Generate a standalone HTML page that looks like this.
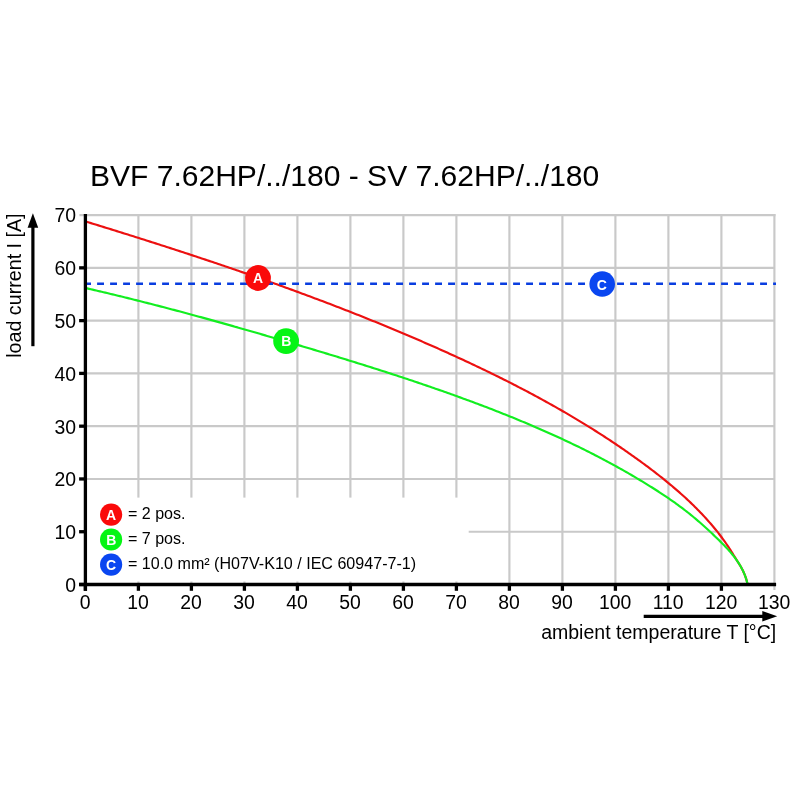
<!DOCTYPE html>
<html><head><meta charset="utf-8"><title>Derating curve</title>
<style>
html,body{margin:0;padding:0;background:#fff;}
body{width:800px;height:800px;overflow:hidden;}
svg{display:block;font-family:"Liberation Sans",Arial,sans-serif;}
</style></head><body>
<svg width="800" height="800" viewBox="0 0 800 800">
<rect width="800" height="800" fill="#fff"/>
<text x="89.9" y="185.6" font-size="30.05" fill="#000">BVF 7.62HP/../180 - SV 7.62HP/../180</text>
<g stroke="#c9c9c9" stroke-width="2.15" fill="none">
<line x1="138.40" y1="215.07" x2="138.40" y2="584.50"/>
<line x1="191.40" y1="215.07" x2="191.40" y2="584.50"/>
<line x1="244.40" y1="215.07" x2="244.40" y2="584.50"/>
<line x1="297.40" y1="215.07" x2="297.40" y2="584.50"/>
<line x1="350.40" y1="215.07" x2="350.40" y2="584.50"/>
<line x1="403.40" y1="215.07" x2="403.40" y2="584.50"/>
<line x1="456.40" y1="215.07" x2="456.40" y2="584.50"/>
<line x1="509.40" y1="215.07" x2="509.40" y2="584.50"/>
<line x1="562.40" y1="215.07" x2="562.40" y2="584.50"/>
<line x1="615.40" y1="215.07" x2="615.40" y2="584.50"/>
<line x1="668.40" y1="215.07" x2="668.40" y2="584.50"/>
<line x1="721.40" y1="215.07" x2="721.40" y2="584.50"/>
<line x1="774.40" y1="213.97" x2="774.40" y2="590.00"/>
<line x1="85.40" y1="531.73" x2="774.40" y2="531.73"/>
<line x1="85.40" y1="478.95" x2="774.40" y2="478.95"/>
<line x1="85.40" y1="426.18" x2="774.40" y2="426.18"/>
<line x1="85.40" y1="373.40" x2="774.40" y2="373.40"/>
<line x1="85.40" y1="320.62" x2="774.40" y2="320.62"/>
<line x1="85.40" y1="267.85" x2="774.40" y2="267.85"/>
<line x1="79.40" y1="215.07" x2="775.50" y2="215.07"/>
</g>
<rect x="87" y="497.6" width="381.7" height="83.9" fill="#fff"/>
<g fill="none" stroke-width="2.15" stroke-linecap="butt" stroke-linejoin="round">
<path d="M85.40,221.40 L87.25,221.97 L89.10,222.53 L90.95,223.10 L92.80,223.67 L94.64,224.24 L96.49,224.81 L98.34,225.38 L100.19,225.95 L102.04,226.52 L103.89,227.10 L105.74,227.67 L107.58,228.24 L109.43,228.82 L111.28,229.39 L113.13,229.97 L114.98,230.54 L116.82,231.12 L118.67,231.69 L120.52,232.27 L122.37,232.85 L124.21,233.43 L126.06,234.01 L127.91,234.59 L129.76,235.17 L131.60,235.75 L133.45,236.33 L135.30,236.92 L137.14,237.50 L138.99,238.08 L140.84,238.67 L142.68,239.26 L144.53,239.84 L146.38,240.43 L148.22,241.02 L150.07,241.60 L151.91,242.19 L153.76,242.78 L155.60,243.37 L157.45,243.97 L159.30,244.56 L161.14,245.15 L162.98,245.75 L164.83,246.34 L166.67,246.94 L168.52,247.53 L170.36,248.13 L172.21,248.73 L174.05,249.33 L175.89,249.92 L177.74,250.52 L179.58,251.13 L181.42,251.73 L183.26,252.33 L185.11,252.93 L186.95,253.54 L188.79,254.14 L190.63,254.75 L192.47,255.36 L194.31,255.97 L196.15,256.57 L197.99,257.18 L199.83,257.79 L201.67,258.41 L203.51,259.02 L205.35,259.63 L207.19,260.25 L209.03,260.86 L210.87,261.48 L212.71,262.10 L214.55,262.71 L216.38,263.33 L218.22,263.95 L220.06,264.57 L221.89,265.20 L223.73,265.82 L225.57,266.44 L227.40,267.07 L229.24,267.69 L231.07,268.32 L232.91,268.95 L234.74,269.58 L236.58,270.21 L238.41,270.84 L240.24,271.47 L242.08,272.11 L243.91,272.74 L245.74,273.37 L247.57,274.01 L249.41,274.65 L251.24,275.29 L253.07,275.93 L254.90,276.57 L256.73,277.21 L258.56,277.85 L260.39,278.50 L262.22,279.14 L264.05,279.79 L265.87,280.44 L267.70,281.09 L269.53,281.74 L271.36,282.39 L273.18,283.04 L275.01,283.69 L276.83,284.35 L278.66,285.00 L280.48,285.66 L282.31,286.32 L284.13,286.98 L285.95,287.64 L287.78,288.30 L289.60,288.96 L291.42,289.63 L293.24,290.29 L295.06,290.96 L296.88,291.63 L298.70,292.30 L300.52,292.97 L302.34,293.64 L304.16,294.31 L305.98,294.98 L307.80,295.66 L309.61,296.34 L311.43,297.01 L313.25,297.69 L315.06,298.38 L316.88,299.06 L318.69,299.74 L320.51,300.43 L322.32,301.11 L324.13,301.80 L325.94,302.49 L327.76,303.18 L329.57,303.87 L331.38,304.56 L333.19,305.26 L335.00,305.95 L336.81,306.65 L338.61,307.35 L340.42,308.05 L342.23,308.75 L344.04,309.45 L345.84,310.16 L347.65,310.86 L349.45,311.57 L351.26,312.28 L353.06,312.99 L354.86,313.70 L356.67,314.41 L358.47,315.12 L360.27,315.84 L362.07,316.56 L363.87,317.28 L365.67,318.00 L367.47,318.72 L369.27,319.44 L371.06,320.17 L372.86,320.89 L374.66,321.62 L376.45,322.35 L378.25,323.08 L380.04,323.81 L381.83,324.55 L383.63,325.28 L385.42,326.02 L387.21,326.76 L389.00,327.50 L390.79,328.24 L392.58,328.98 L394.37,329.73 L396.16,330.47 L397.94,331.22 L399.73,331.97 L401.52,332.72 L403.30,333.48 L405.08,334.23 L406.87,334.99 L408.65,335.74 L410.43,336.50 L412.21,337.27 L414.00,338.03 L415.78,338.79 L417.55,339.56 L419.33,340.33 L421.11,341.10 L422.89,341.87 L424.66,342.64 L426.44,343.42 L428.21,344.19 L429.99,344.97 L431.76,345.75 L433.53,346.53 L435.30,347.32 L437.07,348.10 L438.84,348.89 L440.61,349.68 L442.38,350.47 L444.15,351.26 L445.91,352.06 L447.68,352.85 L449.44,353.65 L451.21,354.45 L452.97,355.25 L454.73,356.05 L456.49,356.86 L458.25,357.67 L460.01,358.48 L461.77,359.29 L463.53,360.10 L465.29,360.92 L467.04,361.73 L468.80,362.55 L470.55,363.38 L472.30,364.20 L474.05,365.03 L475.80,365.86 L477.55,366.69 L479.30,367.52 L481.05,368.35 L482.79,369.19 L484.54,370.03 L486.28,370.87 L488.02,371.72 L489.76,372.56 L491.50,373.41 L493.24,374.26 L494.98,375.12 L496.71,375.97 L498.45,376.83 L500.18,377.69 L501.91,378.56 L503.64,379.42 L505.37,380.29 L507.10,381.16 L508.83,382.03 L510.55,382.91 L512.28,383.79 L514.00,384.67 L515.72,385.55 L517.44,386.44 L519.16,387.33 L520.88,388.22 L522.59,389.12 L524.31,390.02 L526.02,390.92 L527.73,391.82 L529.44,392.73 L531.15,393.63 L532.85,394.55 L534.56,395.46 L536.26,396.38 L537.96,397.30 L539.66,398.22 L541.36,399.15 L543.06,400.08 L544.75,401.01 L546.45,401.95 L548.14,402.88 L549.83,403.83 L551.52,404.77 L553.21,405.72 L554.89,406.67 L556.57,407.62 L558.26,408.58 L559.94,409.54 L561.61,410.50 L563.29,411.47 L564.96,412.44 L566.64,413.41 L568.31,414.39 L569.98,415.37 L571.64,416.35 L573.31,417.34 L574.97,418.33 L576.63,419.32 L578.29,420.32 L579.95,421.32 L581.61,422.33 L583.26,423.33 L584.91,424.34 L586.56,425.36 L588.21,426.38 L589.85,427.40 L591.50,428.42 L593.14,429.45 L594.78,430.48 L596.41,431.52 L598.05,432.56 L599.68,433.60 L601.31,434.65 L602.94,435.70 L604.57,436.76 L606.19,437.81 L607.82,438.88 L609.44,439.94 L611.06,441.01 L612.67,442.09 L614.28,443.16 L615.90,444.24 L617.50,445.33 L619.11,446.42 L620.72,447.51 L622.32,448.61 L623.92,449.71 L625.52,450.82 L627.11,451.93 L628.70,453.04 L630.29,454.16 L631.88,455.28 L633.47,456.40 L635.05,457.53 L636.63,458.67 L638.21,459.81 L639.79,460.95 L641.36,462.10 L642.93,463.25 L644.50,464.40 L646.06,465.56 L647.62,466.73 L649.18,467.90 L650.74,469.07 L652.29,470.25 L653.84,471.43 L655.38,472.62 L656.92,473.81 L658.46,475.01 L659.99,476.22 L661.52,477.43 L663.04,478.64 L664.55,479.86 L666.07,481.09 L667.57,482.32 L669.07,483.56 L670.57,484.80 L672.06,486.05 L673.54,487.31 L675.02,488.57 L676.49,489.84 L677.96,491.11 L679.42,492.39 L680.87,493.68 L682.31,494.97 L683.75,496.27 L685.18,497.58 L686.61,498.89 L688.02,500.21 L689.43,501.54 L690.83,502.88 L692.22,504.22 L693.61,505.57 L694.98,506.92 L696.35,508.29 L697.71,509.66 L699.05,511.04 L700.39,512.43 L701.73,513.82 L703.05,515.22 L704.36,516.63 L705.66,518.05 L706.95,519.48 L708.24,520.92 L709.51,522.36 L710.77,523.81 L712.02,525.27 L713.26,526.74 L714.49,528.22 L715.71,529.70 L716.91,531.20 L718.11,532.70 L719.29,534.22 L720.46,535.74 L721.61,537.27 L722.76,538.81 L723.89,540.37 L725.00,541.93 L726.10,543.50 L727.19,545.08 L728.26,546.67 L729.32,548.27 L730.37,549.89 L731.39,551.51 L732.41,553.14 L733.40,554.79 L734.38,556.44 L740.11,565.46 L741.02,567.04 L741.89,568.66 L742.72,570.29 L743.50,571.96 L744.24,573.66 L744.93,575.38 L745.57,577.14 L746.16,578.93 L746.70,580.75 L747.18,582.61 L747.60,584.50" stroke="#ec1010"/>
<path d="M85.40,288.00 L87.21,288.41 L89.02,288.83 L90.83,289.25 L92.64,289.67 L94.45,290.09 L96.26,290.51 L98.07,290.93 L99.88,291.36 L101.69,291.78 L103.49,292.21 L105.30,292.64 L107.11,293.07 L108.92,293.50 L110.73,293.94 L112.53,294.37 L114.34,294.81 L116.15,295.24 L117.95,295.68 L119.76,296.12 L121.56,296.56 L123.37,297.01 L125.18,297.45 L126.98,297.89 L128.79,298.34 L130.59,298.79 L132.40,299.24 L134.20,299.69 L136.00,300.14 L137.81,300.59 L139.61,301.05 L141.41,301.50 L143.22,301.96 L145.02,302.42 L146.82,302.88 L148.63,303.34 L150.43,303.80 L152.23,304.26 L154.03,304.72 L155.83,305.19 L157.63,305.65 L159.44,306.12 L161.24,306.59 L163.04,307.06 L164.84,307.53 L166.64,308.00 L168.44,308.47 L170.24,308.95 L172.04,309.42 L173.83,309.90 L175.63,310.38 L177.43,310.85 L179.23,311.33 L181.03,311.81 L182.83,312.29 L184.62,312.78 L186.42,313.26 L188.22,313.74 L190.01,314.23 L191.81,314.72 L193.61,315.20 L195.40,315.69 L197.20,316.18 L199.00,316.67 L200.79,317.16 L202.59,317.65 L204.38,318.15 L206.18,318.64 L207.97,319.13 L209.76,319.63 L211.56,320.13 L213.35,320.62 L215.15,321.12 L216.94,321.62 L218.73,322.12 L220.52,322.62 L222.32,323.12 L224.11,323.63 L225.90,324.13 L227.69,324.63 L229.49,325.14 L231.28,325.64 L233.07,326.15 L234.86,326.66 L236.65,327.16 L238.44,327.67 L240.23,328.18 L242.02,328.69 L243.81,329.20 L245.60,329.72 L247.39,330.23 L249.18,330.74 L250.96,331.25 L252.75,331.77 L254.54,332.28 L256.33,332.80 L258.12,333.32 L259.90,333.83 L261.69,334.35 L263.48,334.87 L265.26,335.39 L267.05,335.91 L268.84,336.43 L270.62,336.95 L272.41,337.47 L274.19,337.99 L275.98,338.51 L277.76,339.04 L279.55,339.56 L281.33,340.08 L283.12,340.61 L284.90,341.13 L286.69,341.66 L288.47,342.19 L290.25,342.71 L292.04,343.24 L293.82,343.77 L295.60,344.30 L297.38,344.82 L299.17,345.35 L300.95,345.88 L302.73,346.41 L304.51,346.94 L306.29,347.47 L308.07,348.01 L309.85,348.54 L311.63,349.07 L313.41,349.60 L315.19,350.14 L316.97,350.67 L318.75,351.21 L320.53,351.74 L322.31,352.28 L324.09,352.82 L325.86,353.35 L327.64,353.89 L329.42,354.43 L331.20,354.97 L332.97,355.51 L334.75,356.05 L336.53,356.59 L338.30,357.14 L340.08,357.68 L341.85,358.22 L343.63,358.77 L345.40,359.32 L347.18,359.86 L348.95,360.41 L350.73,360.96 L352.50,361.51 L354.27,362.06 L356.05,362.61 L357.82,363.16 L359.59,363.72 L361.36,364.27 L363.13,364.83 L364.91,365.38 L366.68,365.94 L368.45,366.50 L370.22,367.06 L371.99,367.62 L373.76,368.18 L375.53,368.74 L377.30,369.31 L379.06,369.87 L380.83,370.44 L382.60,371.01 L384.37,371.57 L386.13,372.14 L387.90,372.71 L389.67,373.29 L391.43,373.86 L393.20,374.44 L394.96,375.01 L396.73,375.59 L398.49,376.17 L400.26,376.75 L402.02,377.33 L403.79,377.91 L405.55,378.50 L407.31,379.08 L409.07,379.67 L410.84,380.26 L412.60,380.85 L414.36,381.44 L416.12,382.03 L417.88,382.62 L419.64,383.22 L421.40,383.82 L423.16,384.41 L424.92,385.02 L426.67,385.62 L428.43,386.22 L430.19,386.82 L431.95,387.43 L433.70,388.04 L435.46,388.65 L437.21,389.26 L438.97,389.87 L440.72,390.49 L442.48,391.10 L444.23,391.72 L445.99,392.34 L447.74,392.96 L449.49,393.59 L451.24,394.21 L453.00,394.84 L454.75,395.47 L456.50,396.10 L458.25,396.73 L460.00,397.37 L461.75,398.00 L463.50,398.64 L465.24,399.28 L466.99,399.92 L468.74,400.57 L470.49,401.21 L472.23,401.86 L473.98,402.51 L475.72,403.16 L477.47,403.81 L479.21,404.47 L480.95,405.13 L482.70,405.79 L484.44,406.45 L486.18,407.12 L487.92,407.78 L489.66,408.45 L491.39,409.12 L493.13,409.80 L494.87,410.47 L496.60,411.15 L498.34,411.83 L500.07,412.51 L501.81,413.20 L503.54,413.89 L505.27,414.58 L507.00,415.27 L508.73,415.96 L510.46,416.66 L512.18,417.36 L513.91,418.06 L515.63,418.77 L517.36,419.48 L519.08,420.19 L520.80,420.90 L522.52,421.62 L524.24,422.33 L525.96,423.05 L527.68,423.78 L529.39,424.50 L531.11,425.23 L532.82,425.96 L534.53,426.70 L536.24,427.44 L537.95,428.18 L539.66,428.92 L541.37,429.66 L543.07,430.41 L544.78,431.16 L546.48,431.92 L548.18,432.68 L549.88,433.44 L551.58,434.20 L553.28,434.97 L554.97,435.74 L556.66,436.51 L558.36,437.28 L560.05,438.06 L561.74,438.84 L563.42,439.63 L565.11,440.42 L566.79,441.21 L568.48,442.00 L570.16,442.80 L571.84,443.60 L573.51,444.41 L575.19,445.21 L576.86,446.02 L578.54,446.84 L580.21,447.66 L581.88,448.48 L583.54,449.30 L585.21,450.13 L586.87,450.96 L588.53,451.79 L590.19,452.63 L591.85,453.47 L593.51,454.32 L595.16,455.17 L596.81,456.02 L598.46,456.88 L600.11,457.74 L601.75,458.60 L603.40,459.47 L605.04,460.34 L606.68,461.21 L608.32,462.09 L609.95,462.97 L611.58,463.86 L613.22,464.74 L614.84,465.64 L616.47,466.53 L618.10,467.44 L619.72,468.34 L621.34,469.25 L622.96,470.16 L624.57,471.08 L626.18,472.00 L627.80,472.92 L629.40,473.85 L631.01,474.78 L632.61,475.72 L634.21,476.66 L635.81,477.60 L637.41,478.55 L639.00,479.51 L640.60,480.46 L642.19,481.42 L643.77,482.39 L645.36,483.36 L646.94,484.33 L648.52,485.31 L650.09,486.29 L651.67,487.28 L653.24,488.27 L654.81,489.27 L656.37,490.27 L657.93,491.27 L659.49,492.29 L661.05,493.30 L662.60,494.32 L664.14,495.35 L665.69,496.39 L667.22,497.43 L668.76,498.48 L670.29,499.53 L671.81,500.59 L673.33,501.66 L674.85,502.73 L676.36,503.82 L677.86,504.91 L679.36,506.01 L680.85,507.11 L682.34,508.23 L683.82,509.35 L685.29,510.48 L686.76,511.62 L688.22,512.77 L689.68,513.93 L691.12,515.10 L692.56,516.28 L694.00,517.46 L695.43,518.66 L696.85,519.86 L698.26,521.08 L699.67,522.30 L701.07,523.53 L702.47,524.76 L703.86,526.00 L705.25,527.25 L706.63,528.51 L708.00,529.77 L709.37,531.04 L710.74,532.31 L712.10,533.59 L713.45,534.88 L714.80,536.17 L716.15,537.46 L717.49,538.76 L718.83,540.06 L720.16,541.37 L721.48,542.68 L722.80,544.01 L724.10,545.34 L725.39,546.68 L726.66,548.03 L727.92,549.39 L729.16,550.76 L730.38,552.15 L731.57,553.56 L732.74,554.98 L733.89,556.41 L735.00,557.87 L736.09,559.34 L737.15,560.84 L738.17,562.36 L739.16,563.89 L740.11,565.46 L741.02,567.04 L741.89,568.66 L742.72,570.29 L743.50,571.96 L744.24,573.66 L744.93,575.38 L745.57,577.14 L746.16,578.93 L746.70,580.75 L747.18,582.61 L747.60,584.50" stroke="#12ee20"/>
<line x1="84.1" y1="283.8" x2="776" y2="283.8" stroke="#0a3ee0" stroke-width="2.4" stroke-dasharray="6.9 6.1"/>
</g>
<g stroke="#000" stroke-width="3.3" fill="none">
<line x1="85.4" y1="214.07" x2="85.4" y2="590.8"/>
<line x1="79.10000000000001" y1="584.5" x2="776.10" y2="584.5"/>
<line x1="85.40" y1="584.50" x2="85.40" y2="590.80"/>
<line x1="138.40" y1="584.50" x2="138.40" y2="590.80"/>
<line x1="191.40" y1="584.50" x2="191.40" y2="590.80"/>
<line x1="244.40" y1="584.50" x2="244.40" y2="590.80"/>
<line x1="297.40" y1="584.50" x2="297.40" y2="590.80"/>
<line x1="350.40" y1="584.50" x2="350.40" y2="590.80"/>
<line x1="403.40" y1="584.50" x2="403.40" y2="590.80"/>
<line x1="456.40" y1="584.50" x2="456.40" y2="590.80"/>
<line x1="509.40" y1="584.50" x2="509.40" y2="590.80"/>
<line x1="562.40" y1="584.50" x2="562.40" y2="590.80"/>
<line x1="615.40" y1="584.50" x2="615.40" y2="590.80"/>
<line x1="668.40" y1="584.50" x2="668.40" y2="590.80"/>
<line x1="721.40" y1="584.50" x2="721.40" y2="590.80"/>
<line x1="79.10" y1="584.50" x2="85.40" y2="584.50"/>
<line x1="79.10" y1="531.73" x2="85.40" y2="531.73"/>
<line x1="79.10" y1="478.95" x2="85.40" y2="478.95"/>
<line x1="79.10" y1="426.18" x2="85.40" y2="426.18"/>
<line x1="79.10" y1="373.40" x2="85.40" y2="373.40"/>
<line x1="79.10" y1="320.62" x2="85.40" y2="320.62"/>
<line x1="79.10" y1="267.85" x2="85.40" y2="267.85"/>
</g>
<g font-size="19.4" fill="#000">
<text x="85.10" y="608.5" text-anchor="middle">0</text>
<text x="138.10" y="608.5" text-anchor="middle">10</text>
<text x="191.10" y="608.5" text-anchor="middle">20</text>
<text x="244.10" y="608.5" text-anchor="middle">30</text>
<text x="297.10" y="608.5" text-anchor="middle">40</text>
<text x="350.10" y="608.5" text-anchor="middle">50</text>
<text x="403.10" y="608.5" text-anchor="middle">60</text>
<text x="456.10" y="608.5" text-anchor="middle">70</text>
<text x="509.10" y="608.5" text-anchor="middle">80</text>
<text x="562.10" y="608.5" text-anchor="middle">90</text>
<text x="615.10" y="608.5" text-anchor="middle">100</text>
<text x="668.10" y="608.5" text-anchor="middle">110</text>
<text x="721.10" y="608.5" text-anchor="middle">120</text>
<text x="774.10" y="608.5" text-anchor="middle">130</text>
<text x="76" y="591.90" text-anchor="end">0</text>
<text x="76" y="539.12" text-anchor="end">10</text>
<text x="76" y="486.35" text-anchor="end">20</text>
<text x="76" y="433.57" text-anchor="end">30</text>
<text x="76" y="380.80" text-anchor="end">40</text>
<text x="76" y="328.02" text-anchor="end">50</text>
<text x="76" y="275.25" text-anchor="end">60</text>
<text x="76" y="222.47" text-anchor="end">70</text>
</g>
<g font-size="14" font-weight="bold" fill="#fff" text-anchor="middle">
<circle cx="258" cy="278" r="12.9" fill="#fa0a0a"/><text x="258" y="283">A</text>
<circle cx="286.1" cy="341.1" r="12.9" fill="#05f514"/><text x="286.3" y="346.1">B</text>
<circle cx="602.2" cy="284" r="12.8" fill="#0a46f0"/><text x="601.8" y="289.6">C</text>
<circle cx="111.1" cy="514.6" r="11.1" fill="#fa0a0a"/><text x="111.1" y="519.5">A</text>
<circle cx="111.1" cy="539.5" r="11.1" fill="#05f514"/><text x="111.3" y="544.5">B</text>
<circle cx="111.1" cy="564.6" r="11.1" fill="#0a46f0"/><text x="111.1" y="569.7">C</text>
</g>
<g font-size="16.08" fill="#000">
<text x="127.9" y="518.8">= 2 pos.</text>
<text x="127.9" y="543.8">= 7 pos.</text>
<text x="127.9" y="569">= 10.0 mm² (H07V-K10 / IEC 60947-7-1)</text>
</g>
<text x="776.2" y="639.4" font-size="19.55" text-anchor="end" fill="#000">ambient temperature T [°C]</text>
<text transform="translate(21.2,213.4) rotate(-90)" font-size="19.7" text-anchor="end" fill="#000">load current I [A]</text>
<g stroke="#000" stroke-width="3.2" fill="#000">
<line x1="32.9" y1="346.2" x2="32.9" y2="226"/>
<polygon points="32.9,213.2 38.2,227.8 27.6,227.8" stroke="none"/>
<line x1="643.7" y1="616.3" x2="764" y2="616.3"/>
<polygon points="777.2,616.3 762.3,621.6 762.3,611" stroke="none"/>
</g>
</svg>
</body></html>
